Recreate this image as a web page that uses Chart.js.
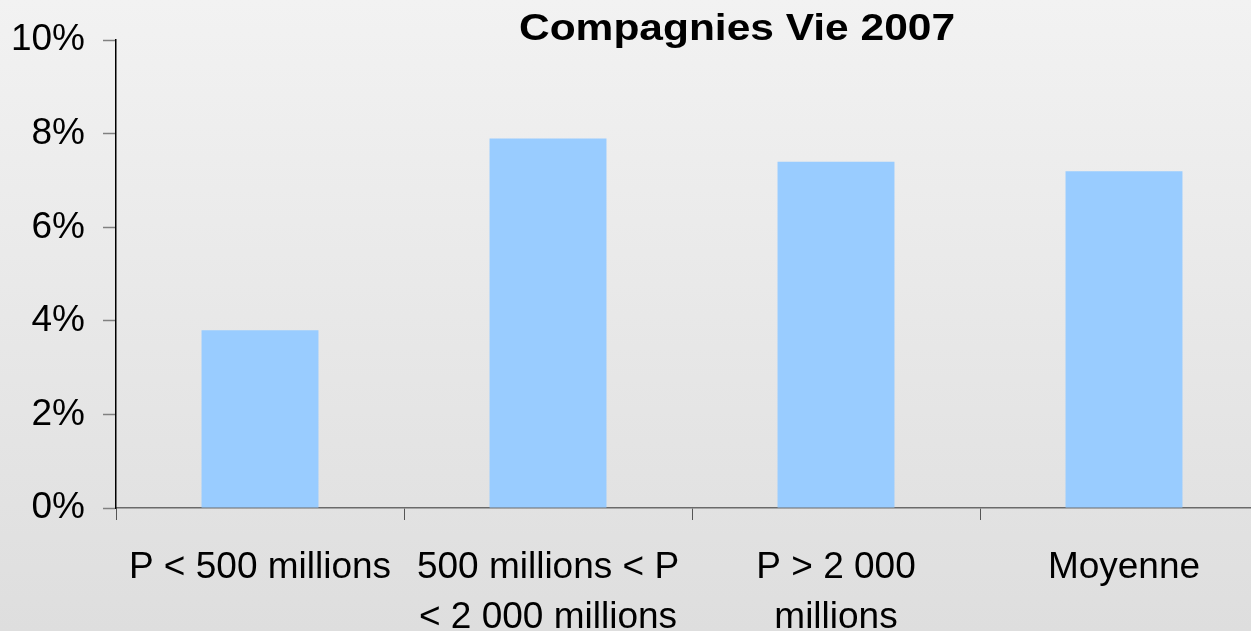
<!DOCTYPE html>
<html>
<head>
<meta charset="utf-8">
<script src="https://cdn.jsdelivr.net/npm/chart.js@4/dist/chart.umd.min.js"></script>
<style>
  html, body {
    margin: 0;
    padding: 0;
    width: 1251px;
    height: 631px;
    overflow: hidden;
    background: linear-gradient(to bottom, #f2f2f2 0%, #dedede 100%);
  }
  #wrap { width: 1268px; height: 631px; }
</style>
</head>
<body>
<div id="wrap"><canvas id="graphique"></canvas></div>
<script>
const titre = "Compagnies Vie 2007";
const categories = [
  "P < 500 millions",
  ["500 millions < P", "< 2 000 millions"],
  ["P > 2 000", "millions"],
  "Moyenne"
];
const valeurs = [3.8, 7.9, 7.4, 7.2];   // en %
const graduations = [0, 2, 4, 6, 8, 10];

const police = '"Liberation Sans", Arial, sans-serif';

// titre dessiné à la main : il chevauche la zone du graphique
const titrePlugin = {
  id: "titreEtire",
  afterDraw(chart) {
    const ctx = chart.ctx;
    ctx.save();
    ctx.font = "bold 37px " + police;
    ctx.fillStyle = "#000";
    ctx.textAlign = "center";
    ctx.textBaseline = "alphabetic";
    const largeur = ctx.measureText(titre).width;
    ctx.translate(737, 40);
    ctx.scale(436 / largeur, 1);
    ctx.fillText(titre, 0, 0);
    ctx.restore();
  }
};

const ctx = document.getElementById("graphique").getContext("2d");
new Chart(ctx, {
  type: "bar",
  data: {
    labels: categories,
    datasets: [{
      data: valeurs,
      backgroundColor: "#99ccff",
      borderWidth: 0,
      categoryPercentage: 1,
      barPercentage: 0.406
    }]
  },
  options: {
    responsive: true,
    maintainAspectRatio: false,
    animation: false,
    layout: { padding: { top: 39, left: 0, right: 0, bottom: 0 } },
    plugins: {
      legend: { display: false },
      title: { display: false },
      tooltip: { enabled: false }
    },
    scales: {
      x: {
        grid: {
          drawOnChartArea: false,
          offset: true,
          tickLength: 12,
          tickColor: "#555",
          tickWidth: 1
        },
        border: { color: "#6a6a6a", width: 1.5 },
        ticks: {
          color: "#000",
          padding: 23,
          maxRotation: 0,
          autoSkip: false,
          font: { family: police, size: 37, lineHeight: 1.34 }
        },
        afterFit(scale) { scale.height = 123; }
      },
      y: {
        min: 0,
        max: 10,
        afterBuildTicks(scale) {
          scale.ticks = graduations.map(v => ({ value: v }));
        },
        grid: {
          drawOnChartArea: false,
          tickLength: 13,
          tickColor: "#808080",
          tickWidth: 1.5
        },
        border: { color: "#000", width: 1.5 },
        ticks: {
          color: "#000",
          padding: 18,
          callback: v => v + "%",
          font: { family: police, size: 37 }
        },
        afterFit(scale) { scale.width = 116; }
      }
    }
  },
  plugins: [titrePlugin]
});
</script>
</body>
</html>
